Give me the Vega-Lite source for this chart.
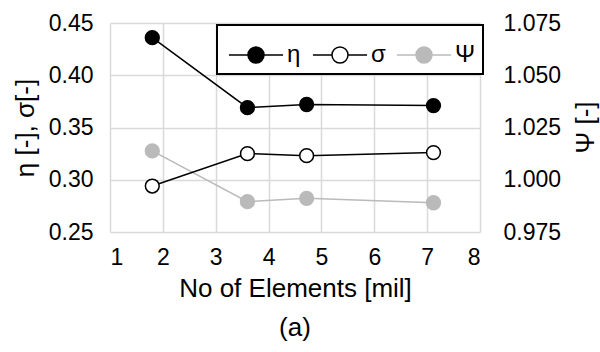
{
  "$schema": "https://vega.github.io/schema/vega-lite/v6.json",
  "width": 370,
  "height": 209,
  "autosize": {"type": "none"},
  "padding": {"left": 110, "top": 23, "right": 120, "bottom": 120},
  "background": "white",
  "config": {
    "font": "Liberation Sans",
    "view": {"stroke": null},
    "axis": {
      "domain": false,
      "ticks": false,
      "tickSize": 0,
      "grid": false,
      "gridColor": "#d9d9d9",
      "gridWidth": 1.5,
      "labelFont": "Liberation Sans",
      "labelFontSize": 23,
      "labelColor": "#000000",
      "titleFont": "Liberation Sans",
      "titleFontSize": 26,
      "titleFontWeight": "normal",
      "titleColor": "#000000"
    },
    "legend": {
      "orient": "none",
      "legendX": 107,
      "legendY": 2,
      "direction": "horizontal",
      "title": null,
      "strokeColor": "#000000",
      "strokeWidth": 2,
      "fillColor": "white",
      "padding": 7,
      "gridAlign": "all",
      "columnPadding": 0,
      "labelFont": "Liberation Sans",
      "labelFontSize": 24,
      "labelColor": "#000000",
      "labelOffset": 8,
      "symbolOffset": 9,
      "symbolType": "M-1.23,0H-0.364M0.364,0H1.23M-0.364,0A0.364,0.364,0,1,0,0.364,0A0.364,0.364,0,1,0,-0.364,0",
      "symbolSize": 1936,
      "symbolStrokeWidth": 1.5
    },
    "title": {"font": "Liberation Sans", "fontSize": 26, "fontWeight": "normal", "color": "#000000"}
  },
  "title": {"text": "(a)", "orient": "bottom", "anchor": "middle", "offset": 14},
  "data": {
    "values": [
      {"n": 1.8, "series": "η", "value": 0.436},
      {"n": 3.6, "series": "η", "value": 0.369},
      {"n": 4.72, "series": "η", "value": 0.372},
      {"n": 7.12, "series": "η", "value": 0.371},
      {"n": 1.8, "series": "σ", "value": 0.294},
      {"n": 3.6, "series": "σ", "value": 0.325},
      {"n": 4.72, "series": "σ", "value": 0.323},
      {"n": 7.12, "series": "σ", "value": 0.326},
      {"n": 1.8, "series": "Ψ", "value": 1.0138},
      {"n": 3.6, "series": "Ψ", "value": 0.9895},
      {"n": 4.72, "series": "Ψ", "value": 0.9911},
      {"n": 7.12, "series": "Ψ", "value": 0.989}
    ]
  },
  "encoding": {
    "x": {
      "field": "n",
      "type": "quantitative",
      "scale": {"domain": [1, 8], "nice": false},
      "axis": {"grid": true, "values": [1, 2, 3, 4, 5, 6, 7, 8], "title": "No of Elements [mil]", "labelPadding": 14, "titlePadding": 6}
    }
  },
  "layer": [
    {
      "transform": [{"filter": "datum.series === 'Ψ'"}],
      "encoding": {
        "y": {
          "field": "value",
          "type": "quantitative",
          "scale": {"domain": [0.975, 1.075], "nice": false, "zero": false},
          "axis": {"orient": "right", "grid": true, "values": [0.975, 1.0, 1.025, 1.05, 1.075], "format": ".3f", "labelPadding": 23, "title": "Ψ [-]", "titleAngle": 270, "titleX": 105, "titleY": 104, "titleAlign": "center", "titleBaseline": "middle"}
        },
        "stroke": {
          "field": "series",
          "type": "nominal",
          "scale": {"domain": ["η", "σ", "Ψ"], "range": ["#000000", "#000000", "#bababa"]},
          "sort": ["η", "σ", "Ψ"]
        }
      },
      "layer": [
        {"mark": {"type": "line", "strokeWidth": 1.5}, "encoding": {}},
        {
          "mark": {"type": "point", "shape": "circle", "filled": true, "size": 190, "strokeWidth": 1.5, "opacity": 1},
          "encoding": {
            "fill": {
              "field": "series",
              "type": "nominal",
              "scale": {"domain": ["η", "σ", "Ψ"], "range": ["#000000", "#ffffff", "#bababa"]},
              "sort": ["η", "σ", "Ψ"]
            }
          }
        }
      ]
    },
    {
      "transform": [{"filter": "datum.series !== 'Ψ'"}],
      "encoding": {
        "y": {
          "field": "value",
          "type": "quantitative",
          "scale": {"domain": [0.25, 0.45], "nice": false, "zero": false},
          "axis": {"orient": "left", "grid": false, "values": [0.25, 0.3, 0.35, 0.4, 0.45], "format": ".2f", "title": "η [-], σ[-]", "labelPadding": 17, "titlePadding": 10}
        },
        "stroke": {
          "field": "series",
          "type": "nominal",
          "scale": {"domain": ["η", "σ", "Ψ"], "range": ["#000000", "#000000", "#bababa"]},
          "sort": ["η", "σ", "Ψ"]
        }
      },
      "layer": [
        {"mark": {"type": "line", "strokeWidth": 1.5}, "encoding": {}},
        {
          "mark": {"type": "point", "shape": "circle", "filled": true, "size": 190, "strokeWidth": 1.5, "opacity": 1},
          "encoding": {
            "fill": {
              "field": "series",
              "type": "nominal",
              "scale": {"domain": ["η", "σ", "Ψ"], "range": ["#000000", "#ffffff", "#bababa"]},
              "sort": ["η", "σ", "Ψ"]
            }
          }
        }
      ]
    }
  ],
  "resolve": {"scale": {"y": "independent"}}
}
